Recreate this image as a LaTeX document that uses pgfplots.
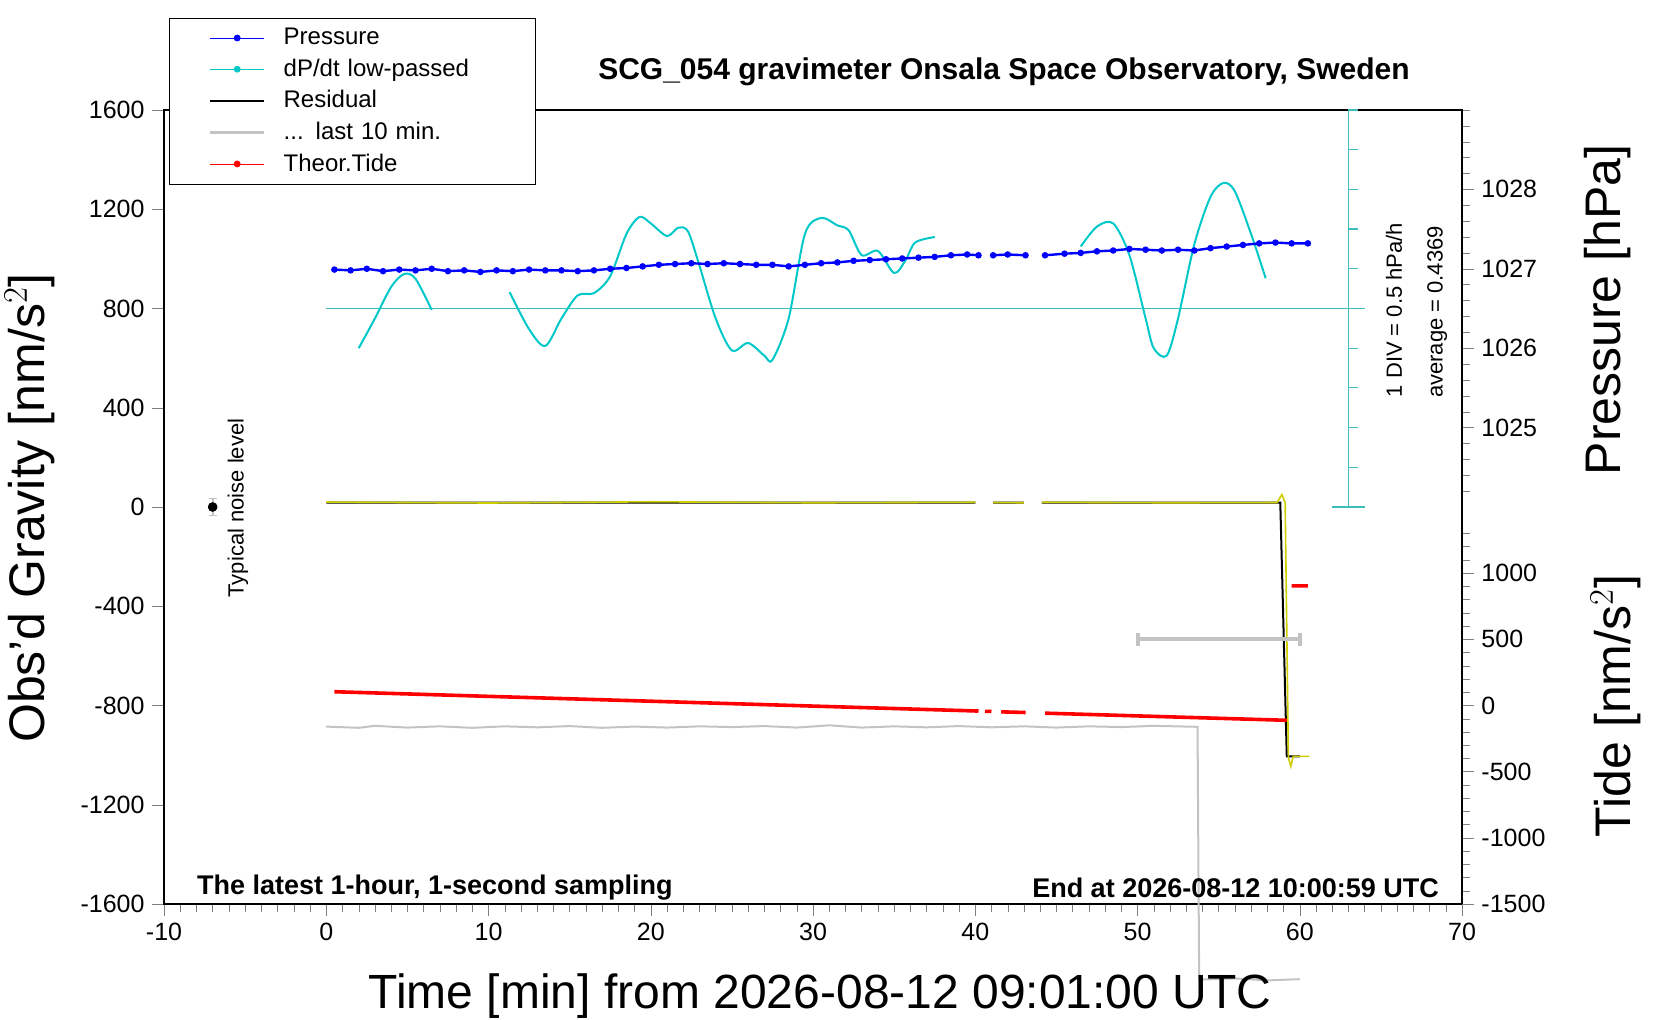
\documentclass[border=0pt]{standalone}
\usepackage{pgfplots}
\pgfplotsset{compat=1.18}
\usepackage{fontspec}
\setmainfont{Liberation Sans}
\definecolor{cy}{RGB}{0,200,200}
\definecolor{cyl}{RGB}{60,190,190}
\definecolor{yl}{RGB}{205,205,0}
\definecolor{gr}{RGB}{195,195,195}
\begin{document}
\begin{tikzpicture}
\path[use as bounding box] (0,0) rectangle (830pt,510pt);
\pgfplotsset{base/.style={at={(82pt,58pt)},anchor=south west,scale only axis,width=649pt,height=397pt,
 xmin=-10,xmax=70,clip=false,tick align=outside,
 /pgf/number format/assume math mode=true,/pgf/number format/1000 sep={},tick label style={font=\fontsize{12.5}{14}\selectfont},
 major tick length=6pt,minor tick length=4pt,line width=0.8pt}}
% main axis
\begin{axis}[base,ymin=-1600,ymax=1600,xtick={-10,0,...,70},minor x tick num=9,
 ytick={-1600,-1200,...,1600},xtick pos=bottom,ytick pos=left,
 legend style={at={(0.004,1.116)},anchor=north west,font=\fontsize{12}{14}\selectfont,draw=black,line width=0.4pt,row sep=1.6pt,inner xsep=2pt,inner ysep=3pt,nodes={text width=122pt,align=left}},
 legend image code/.code={\node[draw=none,fill=none,inner sep=0pt,text width=1.85cm,minimum width=0pt,minimum height=1pt,anchor=west] at (0cm,0cm) {}; \draw[#1] (0.65cm,0cm) -- (1.6cm,0cm); \draw[#1,only marks] plot coordinates {(1.125cm,0cm)};},
 legend cell align=left]
\addlegendimage{blue,line width=0.4pt,mark=*,mark size=1.5pt}\addlegendentry{Pressure}
\addlegendimage{cy,line width=0.4pt,mark=*,mark size=1.5pt}\addlegendentry{dP/dt low-passed}
\addlegendimage{black,line width=1pt}\addlegendentry{Residual}
\addlegendimage{gr,line width=1.2pt}\addlegendentry{... last 10 min.}
\addlegendimage{red,line width=0.4pt,mark=*,mark size=1.5pt}\addlegendentry{Theor.Tide}
% cyan reference scale
\addplot[cyl,line width=0.7pt,forget plot] coordinates {(0,800)(64,800)};
\addplot[cyl,line width=0.9pt,forget plot] coordinates {(63,0)(63,1600)};
\addplot[cyl,line width=0.9pt,forget plot] coordinates {(62,0)(64,0)};
\addplot[cyl,line width=0.6pt,forget plot,unbounded coords=jump] table {
x y
63 160
63.6 160
nan nan
63 320
63.6 320
nan nan
63 480
63.6 480
nan nan
63 640
63.6 640
nan nan
63 800
63.6 800
nan nan
63 960
63.6 960
nan nan
63 1120
63.6 1120
nan nan
63 1280
63.6 1280
nan nan
63 1440
63.6 1440
nan nan
63 1600
63.6 1600
};
% dP/dt
\addplot[cy,line width=1pt,smooth,forget plot] coordinates {(2,640)(3,760)(4,887)(4.8,939)(5.5,920)(6.5,794)};
\addplot[cy,line width=1pt,smooth,forget plot] coordinates {(11.3,866)(12.5,717)(13.5,649)(14.5,760)(15.5,853)(16.5,862)(17.5,930)(18.5,1100)(19.3,1169)(20,1143)(21,1092)(21.7,1126)(22.3,1110)(23,973)(24,760)(25,631)(26,661)(27,610)(27.5,593)(28.5,760)(29.5,1100)(30.5,1165)(31.5,1135)(32.2,1115)(33,1015)(34,1032)(35,943)(35.7,994)(36.3,1066)(37.5,1088)};
\addplot[cy,line width=1pt,smooth,forget plot] coordinates {(46.5,1050)(47.5,1130)(48.5,1143)(49.5,1015)(50.5,760)(51,640)(51.8,610)(52.5,760)(53.5,1058)(54.5,1250)(55.3,1306)(56,1272)(57,1100)(57.9,922)};
% residual
\addplot[black,line width=1pt,forget plot,unbounded coords=jump] table {
x y
0 18
40 18
nan nan
41.1 18
43 18
nan nan
44.1 18
58.8 18
59.2 -1005
60 -1005
};
\addplot[yl,line width=0.8pt,forget plot,unbounded coords=jump] table {
x y
0 20
10 16
20 21
30 17
40 19
nan nan
41.1 18
43 17
nan nan
44.1 19
52 17
58.6 18
58.9 50
59.1 18
59.3 -1010
59.45 -1045
59.6 -1005
60.6 -1005
};
% gray last 10 min
\addplot[gr,line width=1pt,forget plot] coordinates {(0,-885)(2,-890)(3,-882)(5,-889)(7,-884)(9,-890)(11,-884)(13,-888)(15,-883)(17,-890)(19,-885)(21,-889)(23,-884)(25,-887)(27,-883)(29,-889)(31,-880)(33,-889)(35,-884)(37,-888)(39,-883)(41,-888)(43,-884)(45,-889)(47,-884)(49,-887)(51,-882)(53.7,-886)(53.8,-1905)(56,-1900)(58,-1908)(60,-1903)};
% noise
\addplot[black,mark=*,mark size=2pt,forget plot,error bars/.cd,y dir=both,y explicit,error bar style={gr,line width=1pt}] coordinates {(-7,0) +- (0,35)};
\end{axis}
% pressure axis
\begin{axis}[base,ymin=1019,ymax=1029,axis x line=none,axis y line*=right,
 ytick={1025,1026,1027,1028},minor ytick={1024.2,1024.4,...,1029}]
\addplot[blue,line width=1.2pt,mark=*,mark size=1pt] coordinates {(0.5,1026.99)(1.5,1026.98)(2.5,1027.0)(3.5,1026.97)(4.5,1026.99)(5.5,1026.98)(6.5,1027.0)(7.5,1026.97)(8.5,1026.98)(9.5,1026.96)(10.5,1026.98)(11.5,1026.97)(12.5,1026.99)(13.5,1026.98)(14.5,1026.98)(15.5,1026.97)(16.5,1026.98)(17.5,1027.0)(18.5,1027.01)(19.5,1027.03)(20.5,1027.05)(21.5,1027.06)(22.5,1027.07)(23.5,1027.06)(24.5,1027.07)(25.5,1027.06)(26.5,1027.05)(27.5,1027.05)(28.5,1027.03)(29.5,1027.05)(30.5,1027.07)(31.5,1027.08)(32.5,1027.1)(33.5,1027.11)(34.5,1027.12)(35.5,1027.13)(36.5,1027.14)(37.5,1027.15)(38.5,1027.17)(39.5,1027.18)(40.2,1027.17)};
\addplot[blue,line width=1.2pt,mark=*,mark size=1pt] coordinates {(41.1,1027.17)(42,1027.18)(43.1,1027.17)};
\addplot[blue,line width=1.2pt,mark=*,mark size=1pt] coordinates {(44.3,1027.17)(45.5,1027.19)(46.5,1027.2)(47.5,1027.22)(48.5,1027.23)(49.5,1027.25)(50.5,1027.24)(51.5,1027.23)(52.5,1027.24)(53.5,1027.23)(54.5,1027.26)(55.5,1027.28)(56.5,1027.3)(57.5,1027.32)(58.5,1027.33)(59.5,1027.32)(60.5,1027.32)};
\end{axis}
% tide axis
\begin{axis}[base,ymin=-1500,ymax=4500,axis x line=none,axis y line*=right,
 ytick={-1500,-1000,...,1000},minor ytick={-1400,-1300,...,1300}]
\addplot[red,line width=1.8pt,unbounded coords=jump] table {
x y
0.5 104
40.2 -42
nan nan
40.6 -44
41 -45
nan nan
41.6 -48
43.1 -53
nan nan
44.3 -58
59.2 -112
nan nan
59.5 904
60.5 904
};
\addplot[gr,line width=2pt] coordinates {(50,500)(60,500)};
\addplot[gr,line width=2pt] coordinates {(50,450)(50,550)};
\addplot[gr,line width=2pt] coordinates {(60,450)(60,550)};
\end{axis}
\node[font=\bfseries\fontsize{15}{17}\selectfont] at (502pt,474pt) {SCG\_054 gravimeter Onsala Space Observatory, Sweden};
\node[font=\bfseries\fontsize{13.5}{15}\selectfont,anchor=west] at (95pt,66pt) {The latest 1-hour, 1-second sampling};
\node[font=\bfseries\fontsize{13.5}{15}\selectfont,anchor=east] at (723pt,66pt) {End at 2026-08-12 10:00:59 UTC};
\node[rotate=90,font=\fontsize{11}{13}\selectfont] at (119pt,256pt) {Typical noise level};
\node[rotate=90,font=\fontsize{11}{13}\selectfont] at (697pt,355pt) {1 DIV = 0.5 hPa/h};
\node[rotate=90,font=\fontsize{11}{13}\selectfont] at (718.6pt,354pt) {average = 0.4369};
\node[rotate=90,font=\fontsize{25}{30}\selectfont] at (15pt,256pt) {Obs'd Gravity [nm/s$^2$]};
\node[rotate=90,font=\fontsize{25}{30}\selectfont] at (804pt,355pt) {Pressure [hPa]};
\node[rotate=90,font=\fontsize{25}{30}\selectfont] at (808pt,157pt) {Tide [nm/s$^2$]};
\node[font=\fontsize{24}{28}\selectfont] at (410pt,12pt) {Time [min] from 2026-08-12 09:01:00 UTC};
\end{tikzpicture}
\end{document}
